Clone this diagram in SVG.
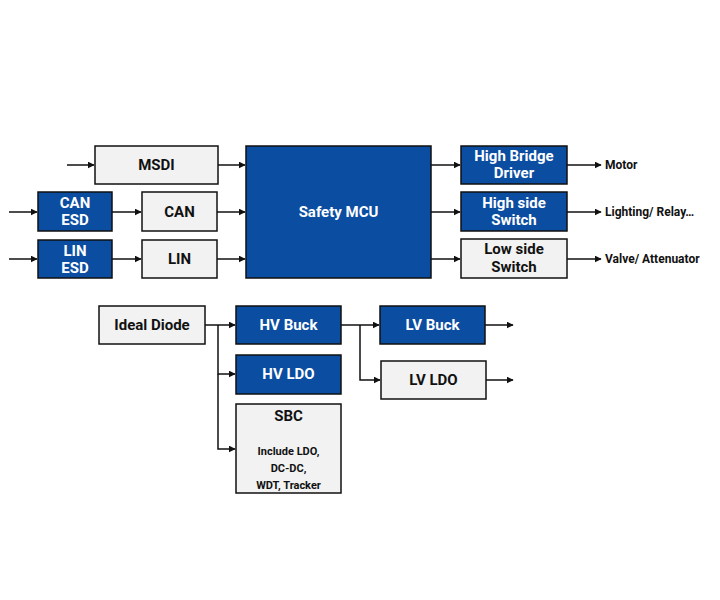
<svg xmlns="http://www.w3.org/2000/svg" width="720" height="600" viewBox="0 0 720 600">
<style>
.b{fill:#0a4da1;stroke:#111;stroke-width:1.5}
.g{fill:#f2f2f2;stroke:#111;stroke-width:1.5}
.t{font-family:Roboto,"Liberation Sans",sans-serif;font-weight:bold;font-size:15px;text-anchor:middle;dominant-baseline:central}
.w{fill:#fff}
.k{fill:#111}
.s{font-size:11px}
.o{text-anchor:start;font-size:12px}
.c line,.c polyline{stroke:#111;stroke-width:1.5;fill:none}
</style>
<defs>
<marker id="a" viewBox="0 0 10 10" refX="9" refY="5" markerWidth="7" markerHeight="7" markerUnits="userSpaceOnUse" orient="auto">
<path d="M0,0 L10,5 L0,10 z" fill="#111"/>
</marker>
</defs>
<rect width="720" height="600" fill="#fff"/>
<g class="c">
<line x1="67" y1="165" x2="94" y2="165" marker-end="url(#a)"/>
<line x1="9" y1="212" x2="37" y2="212" marker-end="url(#a)"/>
<line x1="9" y1="259" x2="37" y2="259" marker-end="url(#a)"/>
<line x1="112" y1="212" x2="141" y2="212" marker-end="url(#a)"/>
<line x1="112" y1="259" x2="141" y2="259" marker-end="url(#a)"/>
<line x1="218" y1="165" x2="245" y2="165" marker-end="url(#a)"/>
<line x1="217" y1="212" x2="245" y2="212" marker-end="url(#a)"/>
<line x1="217" y1="259" x2="245" y2="259" marker-end="url(#a)"/>
<line x1="431" y1="165" x2="460" y2="165" marker-end="url(#a)"/>
<line x1="431" y1="212" x2="460" y2="212" marker-end="url(#a)"/>
<line x1="431" y1="259" x2="460" y2="259" marker-end="url(#a)"/>
<line x1="567" y1="165" x2="601" y2="165" marker-end="url(#a)"/>
<line x1="567" y1="212" x2="601" y2="212" marker-end="url(#a)"/>
<line x1="567" y1="259" x2="601" y2="259" marker-end="url(#a)"/>
<line x1="205" y1="325" x2="235" y2="325" marker-end="url(#a)"/>
<polyline points="218,325 218,374 235,374" marker-end="url(#a)"/>
<polyline points="218,374 218,449 235,449" marker-end="url(#a)"/>
<line x1="341" y1="325" x2="379" y2="325" marker-end="url(#a)"/>
<polyline points="360,325 360,380 380,380" marker-end="url(#a)"/>
<line x1="485" y1="325" x2="513" y2="325" marker-end="url(#a)"/>
<line x1="486" y1="380" x2="513" y2="380" marker-end="url(#a)"/>
</g>
<g id="msdi"><rect class="g" x="95" y="146" width="123" height="38"/><text class="t k" x="156.5" y="165">MSDI</text></g>
<g id="canesd"><rect class="b" x="38" y="192" width="74" height="39"/><text class="t w" x="75" y="203">CAN</text><text class="t w" x="75" y="220">ESD</text></g>
<g id="can"><rect class="g" x="142" y="192" width="75" height="39"/><text class="t k" x="179.5" y="212">CAN</text></g>
<g id="linesd"><rect class="b" x="38" y="240" width="74" height="38"/><text class="t w" x="75" y="251">LIN</text><text class="t w" x="75" y="268">ESD</text></g>
<g id="lin"><rect class="g" x="142" y="240" width="75" height="38"/><text class="t k" x="179.5" y="259">LIN</text></g>
<g id="mcu"><rect class="b" x="246" y="146" width="185" height="132"/><text class="t w" x="338.5" y="212">Safety MCU</text></g>
<g id="hbd"><rect class="b" x="461" y="146" width="106" height="38"/><text class="t w" x="514" y="156">High Bridge</text><text class="t w" x="514" y="173">Driver</text></g>
<g id="hss"><rect class="b" x="461" y="192" width="106" height="39"/><text class="t w" x="514" y="203">High side</text><text class="t w" x="514" y="220">Switch</text></g>
<g id="lss"><rect class="g" x="461" y="239" width="106" height="39"/><text class="t k" x="514" y="249">Low side</text><text class="t k" x="514" y="267">Switch</text></g>
<g id="outs">
<text class="t k o" x="605" y="165">Motor</text>
<text class="t k o" x="605" y="212">Lighting/ Relay…</text>
<text class="t k o" x="605" y="259">Valve/ Attenuator</text>
</g>
<g id="diode"><rect class="g" x="99" y="306" width="106" height="38"/><text class="t k" x="152" y="325">Ideal Diode</text></g>
<g id="hvbuck"><rect class="b" x="236" y="306" width="105" height="38"/><text class="t w" x="288.5" y="325">HV Buck</text></g>
<g id="hvldo"><rect class="b" x="236" y="355" width="105" height="39"/><text class="t w" x="288.5" y="374">HV LDO</text></g>
<g id="sbc"><rect class="g" x="236" y="404" width="105" height="89"/><text class="t k" x="288.5" y="416">SBC</text><text class="t k s" x="288.5" y="451">Include LDO,</text><text class="t k s" x="288.5" y="468">DC-DC,</text><text class="t k s" x="288.5" y="485">WDT, Tracker</text></g>
<g id="lvbuck"><rect class="b" x="380" y="306" width="105" height="38"/><text class="t w" x="432.5" y="325">LV Buck</text></g>
<g id="lvldo"><rect class="g" x="381" y="361" width="105" height="38"/><text class="t k" x="433.5" y="380">LV LDO</text></g>
</svg>
